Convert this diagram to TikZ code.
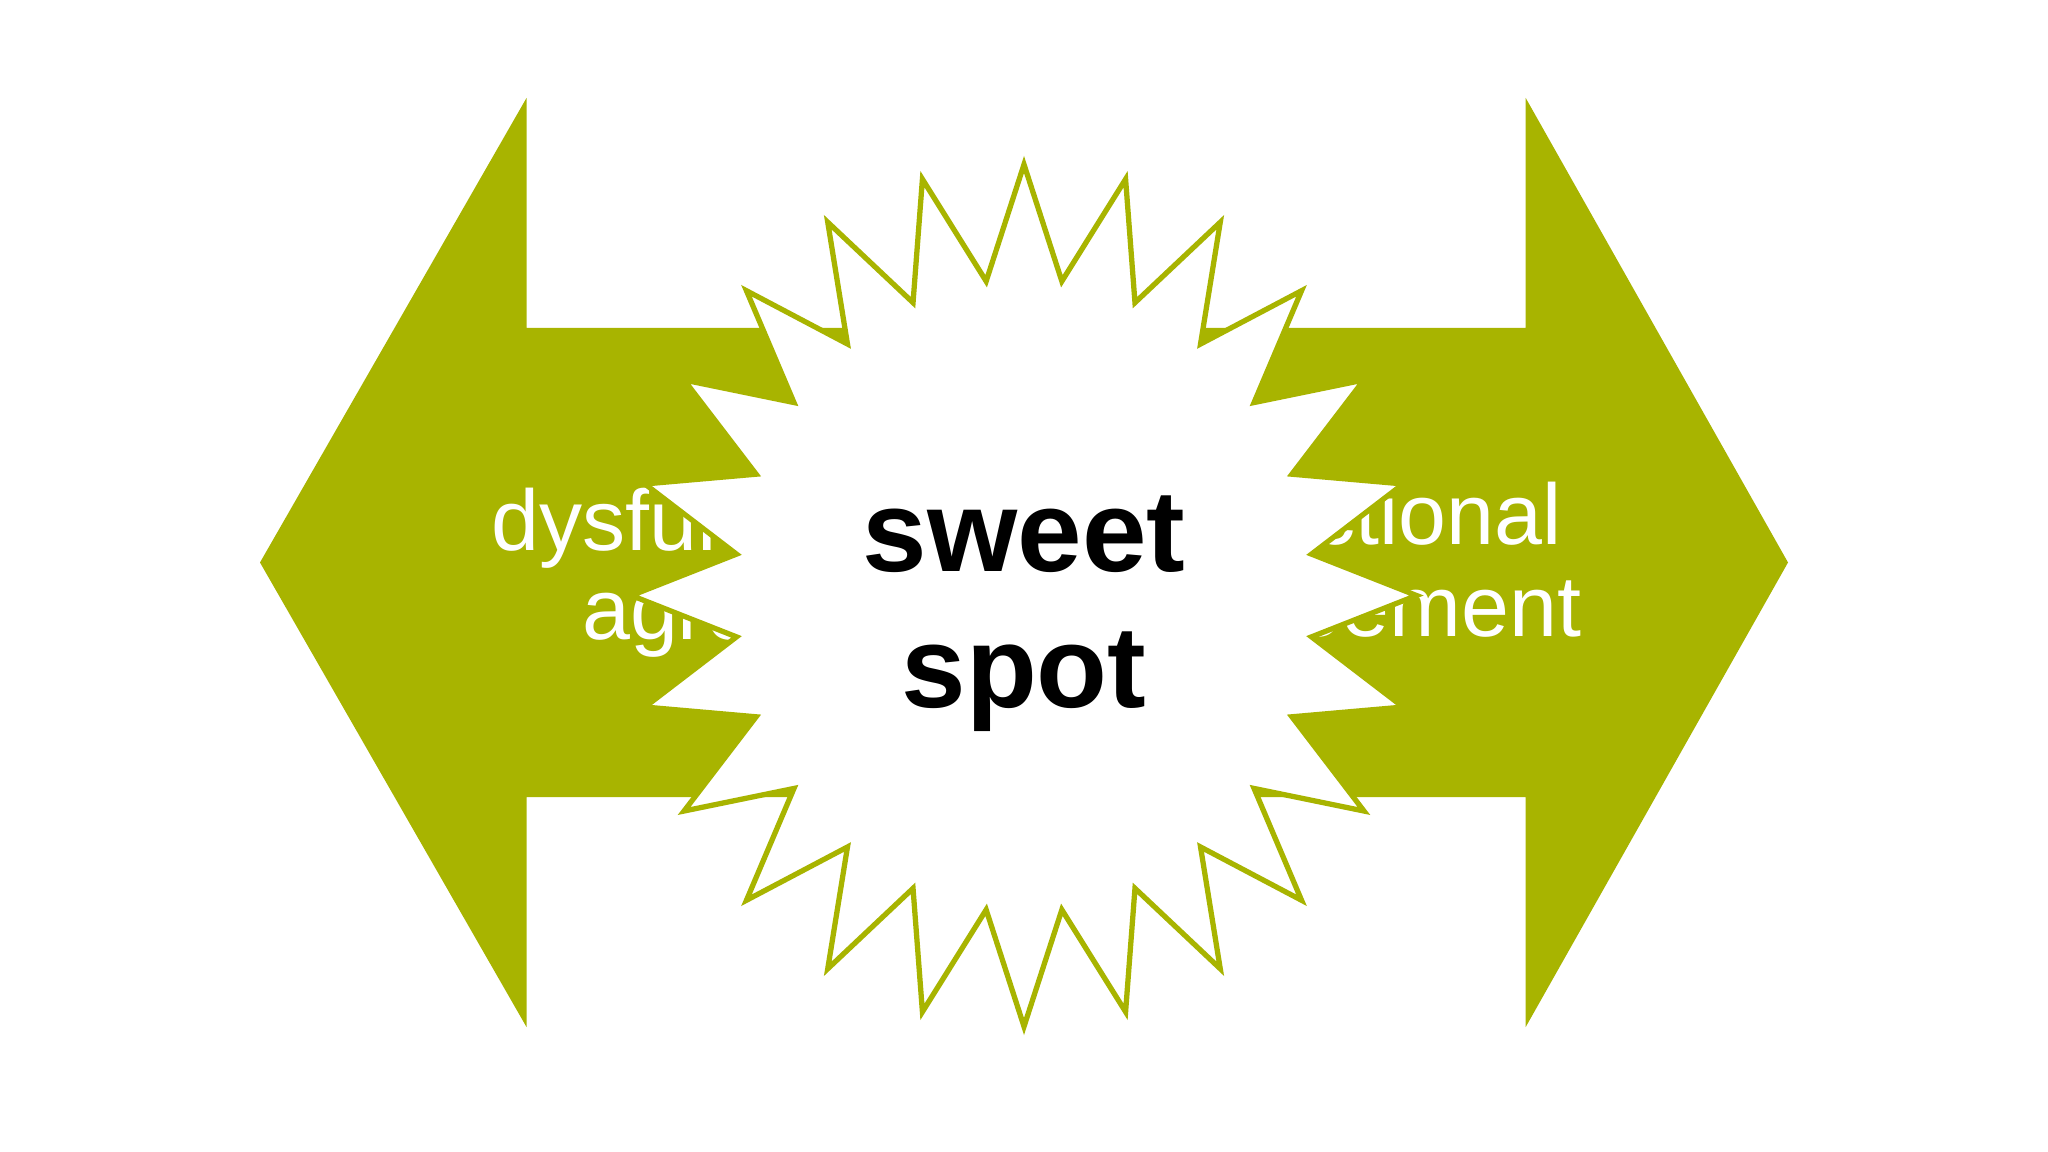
\documentclass[tikz,border=0pt]{standalone}
\usepackage{fontspec}
\setmainfont{Liberation Sans}
\definecolor{arrowgreen}{RGB}{168,180,0}
\begin{document}
\begin{tikzpicture}[x=0.01cm,y=-0.01cm,
  sidetext/.style={text=white, font=\fontsize{24.5}{29}\selectfont, inner sep=0pt, outer sep=0pt},
  centertext/.style={text=black, font=\bfseries\fontsize{33}{38}\selectfont, inner sep=0pt, outer sep=0pt},
  burst/.style={fill=white, draw=arrowgreen, line width=1.5pt, line join=miter},
  bigarrow/.style={fill=arrowgreen, draw=none}]
\fill[white] (0,0) rectangle (2048,1152);
\useasboundingbox (0,0) rectangle (2048,1152);
% double-headed block arrow
\path[bigarrow] (260,562.5) -- (526.5,98) -- (526.5,328) -- (1525.7,328) -- (1525.7,98)
  -- (1788,562.5) -- (1525.7,1027) -- (1525.7,797) -- (526.5,797) -- (526.5,1027) -- cycle;
% side texts
\node[sidetext, anchor=base east] (left1) at (994,550.5) {dysfunctional};
\node[sidetext, anchor=base east] (left2) at (994,639.5) {agreement};
\node[sidetext, anchor=base west] (right1) at (1059,544.5) {dysfunctional};
\node[sidetext, anchor=base west] (right2) at (1059,636.5) {disagreement};
% starburst
\coordinate (burstc) at (1024,595.5);
\draw[burst, shift={(1024,595.5)}] (90:392.5 and 431)
  \foreach \k in {0,...,22} { -- ({97.5+15*\k}:290 and 317) -- ({105+15*\k}:392.5 and 431) }
  -- (442.5:290 and 317) -- cycle;
% centre text
\node[centertext, anchor=base] (sweet) at (1024,571) {sweet};
\node[centertext, anchor=base] (spot) at (1024,707) {spot};
\end{tikzpicture}
\end{document}
